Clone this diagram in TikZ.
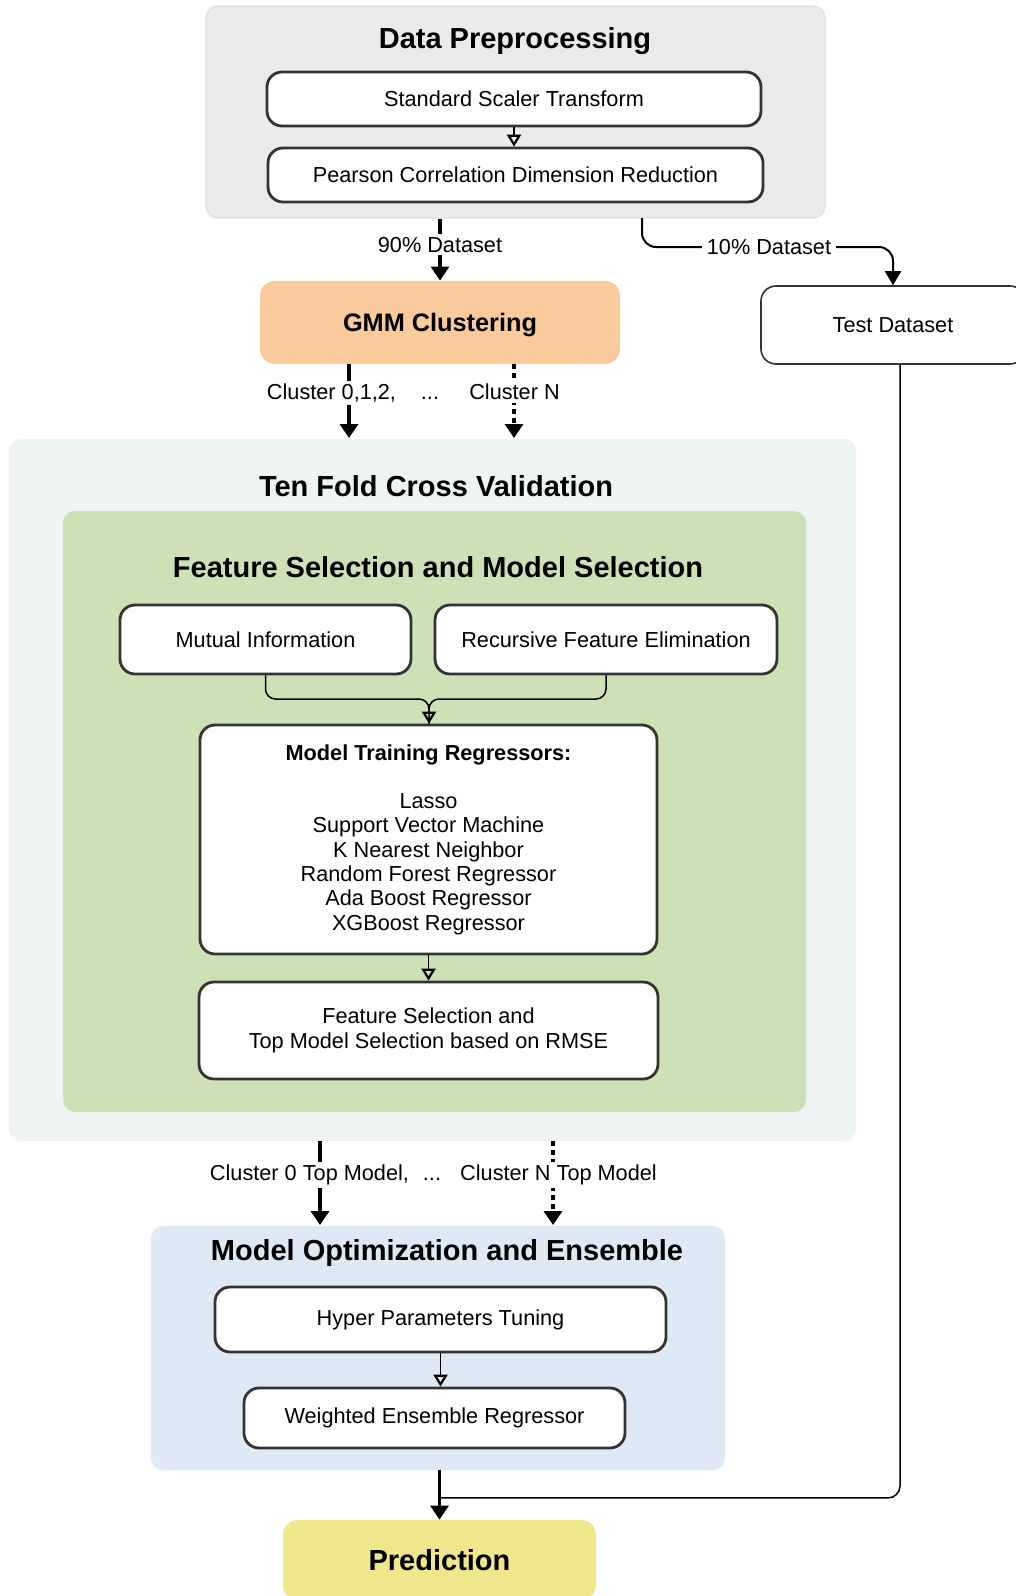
\documentclass[tikz,border=0pt]{standalone}
\usepackage{fontspec}
\setmainfont{Liberation Sans}
\usetikzlibrary{arrows.meta,fit,calc}
\definecolor{dpgray}{HTML}{EBEBEB}
\definecolor{gmmorange}{HTML}{F9CB9C}
\definecolor{tfbg}{HTML}{EEF4F3}
\definecolor{fsgreen}{HTML}{CDE1B6}
\definecolor{moblue}{HTML}{DDEAF5}
\definecolor{predyellow}{HTML}{F0E68C}
\definecolor{boxline}{HTML}{333333}
\newcommand\bodyfnt{\fontsize{10.85}{12.15}\selectfont}
\newcommand\titlefnt{\fontsize{14.5}{17}\selectfont\bfseries}
\begin{document}
\begin{tikzpicture}[x=0.5pt,y=-0.5pt,
  container/.style={rounded corners=6pt, inner sep=0pt},
  stepbox/.style={draw=boxline, line width=1.4pt, fill=white, rounded corners=7.5pt, inner sep=0pt, font=\bodyfnt, align=center},
  coloredbox/.style={rounded corners=7.5pt, inner sep=0pt, font=\fontsize{12.65}{15}\selectfont\bfseries},
  titletext/.style={inner sep=0pt, font=\titlefnt},
  lbl/.style={fill=white, inner sep=1.5pt, font=\bodyfnt},
  thinarrow/.style={line width=0.75pt, -{Triangle[open, width=7pt, length=6pt, line width=1.1pt]}},
  thinline/.style={line width=0.75pt},
  bigarrow/.style={line width=1.6pt, -{Triangle[width=9pt, length=7pt]}},
  dotarrow/.style={line width=1.6pt, dash pattern=on 2.5pt off 2pt, -{Triangle[width=9pt, length=7pt]}},
  midarrow/.style={line width=1pt, -{Triangle[width=8pt, length=7pt]}},
]
\useasboundingbox (0,0) rectangle (1016,1596);
\fill[white] (0,0) rectangle (1016,1596);

% ---------- Data preprocessing ----------
\node[container, fill=dpgray, draw=gray!25, line width=0.6pt, fit={(206,6) (825,218)}] (dp) {};
\node[titletext] (dptitle) at (515,41) {Data Preprocessing};
\node[stepbox, minimum width=247pt, minimum height=27pt] (ss) at (514,99) {Standard Scaler Transform};
\node[stepbox, minimum width=247.5pt, minimum height=27pt] (pc) at (515.5,175) {Pearson Correlation Dimension Reduction};
\draw[thinarrow] (ss.south) -- (ss.south |- pc.north);

% ---------- GMM and Test ----------
\node[coloredbox, fill=gmmorange, text depth=0pt, minimum width=180pt, minimum height=41.5pt] (gmm) at (440,322.5) {GMM Clustering};
\node[stepbox, line width=0.8pt, minimum width=132pt, minimum height=39pt] (test) at (893,325) {Test Dataset};

\draw[bigarrow] (dp.south -| gmm.north) -- node[lbl, pos=0.42] (l90) {90\% Dataset} (gmm.north);

\coordinate (ten) at (642,218);
\coordinate (tenbend) at (642,247);
\draw[midarrow, rounded corners=7pt] (ten) -- (tenbend) -- (tenbend -| test.north) -- (test.north);
\node[lbl, inner sep=2.5pt] (l10) at (769,247) {10\% Dataset};

% ---------- Ten fold CV ----------
\node[container, fill=tfbg, fit={(9,439) (856,1141)}] (tf) {};
\node[titletext] (tftitle) at (436,486) {Ten Fold Cross Validation};
\node[container, fill=fsgreen, fit={(63,511) (806,1112)}] (fs) {};
\node[titletext] (fstitle) at (438,567) {Feature Selection and Model Selection};

\node[stepbox, minimum width=145.5pt, minimum height=34.5pt] (mi) at (265.5,639.5) {Mutual Information};
\node[stepbox, minimum width=171pt, minimum height=34.5pt] (rfe) at (606,639.5) {Recursive Feature Elimination};
\node[stepbox, minimum width=228.5pt, minimum height=114.5pt] (mt) at (428.5,839.5) {\textbf{Model Training Regressors:}\\[12.15pt]
  Lasso\\Support Vector Machine\\K Nearest Neighbor\\Random Forest Regressor\\Ada Boost Regressor\\XGBoost Regressor};
\node[stepbox, minimum width=229.5pt, minimum height=48.5pt] (fsel) at (428.5,1030.5) {Feature Selection and\\Top Model Selection based on RMSE};

\coordinate (mrg) at (429,699);
\draw[thinline, rounded corners=5pt] (mi.south) |- (mrg) -- (mrg |- mt.north);
\draw[thinarrow, rounded corners=5pt] (rfe.south) |- (mrg) -- (mrg |- mt.north);
\draw[thinarrow] (mt.south) -- (mt.south |- fsel.north);

% cluster arrows GMM -> CV
\coordinate (cz) at (349,438);
\coordinate (cn) at (514,438);
\draw[bigarrow] (gmm.south -| cz) -- (cz);
\draw[dotarrow] (gmm.south -| cn) -- (cn);
\node[lbl] (lc0) at (331.5,393) {Cluster 0,1,2,};
\node[lbl] (lcd) at (430,393) {\vphantom{Cl,}...};
\node[lbl] (lcn) at (514.5,392) {Cluster N};

% ---------- Model optimization ----------
\node[container, fill=moblue, fit={(151,1226) (725,1470)}] (mo) {};
\node[titletext] (motitle) at (447,1253) {Model Optimization and Ensemble};
\node[stepbox, minimum width=225.5pt, minimum height=32.5pt] (hp) at (440.5,1319.5) {Hyper Parameters Tuning};
\node[stepbox, minimum width=190.5pt, minimum height=30pt] (we) at (434.5,1418) {Weighted Ensemble Regressor};
\draw[thinarrow] (hp.south) -- (hp.south |- we.north);

\coordinate (mz) at (320,1225);
\coordinate (mn) at (553,1225);
\draw[bigarrow] (tf.south -| mz) -- (mz);
\draw[dotarrow] (tf.south -| mn) -- (mn);
\node[lbl] (lm0) at (309.5,1175) {Cluster 0 Top Model,};
\node[lbl] (lmd) at (432,1175) {\vphantom{Cl,p}...};
\node[lbl] (lmn) at (558.5,1175) {Cluster N Top Model};

% ---------- Prediction ----------
\node[coloredbox, fill=predyellow, font=\titlefnt, minimum width=156.5pt, minimum height=40pt] (pred) at (439.5,1560) {Prediction};
\draw[bigarrow] (mo.south -| pred.north) -- (pred.north);
\coordinate (tstart) at ($(test.south)+(7,0)$);
\coordinate (join) at ($(mo.south -| pred.north)!0.56!(pred.north)$);
\draw[thinline, rounded corners=6pt] (tstart) |- (join);
\end{tikzpicture}
\end{document}
